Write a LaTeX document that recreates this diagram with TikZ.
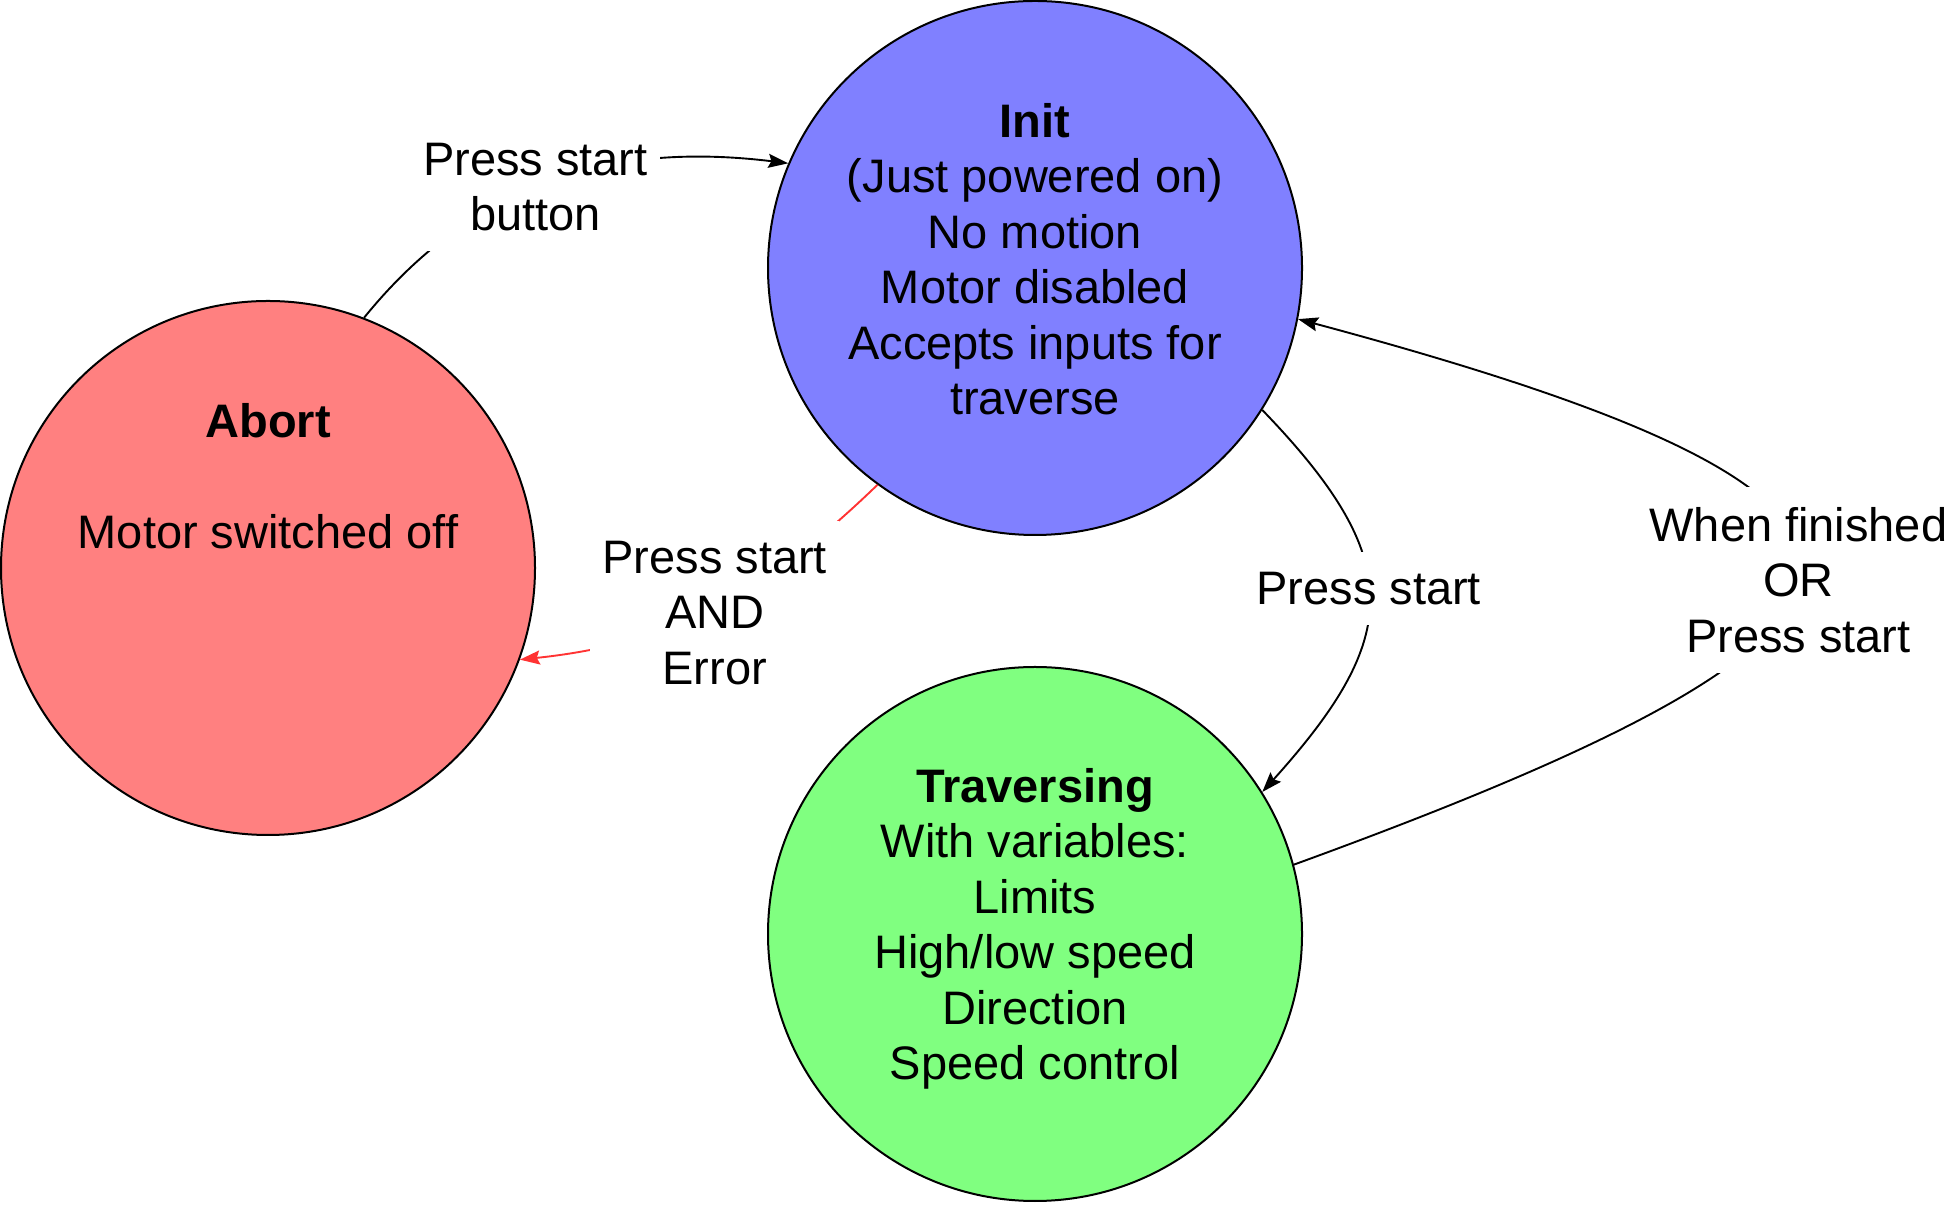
\documentclass[tikz,border=0pt]{standalone}
\usepackage{fontspec}
\setmainfont{Liberation Sans}
\usepackage{tikz}
\usetikzlibrary{arrows.meta}

\definecolor{initblue}{HTML}{8080FF}
\definecolor{abortred}{HTML}{FF8080}
\definecolor{travgreen}{HTML}{80FF80}
\definecolor{errorred}{HTML}{FF3333}

\begin{document}
\begin{tikzpicture}[x=1pt,y=1pt,
  state/.style={circle, draw, line width=2pt, minimum size=534pt, inner sep=0pt},
  statetext/.style={align=center, font=\fontsize{47}{55.5}\selectfont},
  edgelbl/.style={fill=white, align=center, inner xsep=12pt, inner ysep=20pt,
    font=\fontsize{47}{55.5}\selectfont},
  trans/.style={line width=1.9pt, -{Stealth[length=20pt,width=14pt,inset=3pt]}}]
\useasboundingbox (0,0) rectangle (1958,1204);

% states
\node[state, fill=initblue] (init) at (1035,936) {};
\node[state, fill=abortred] (abort) at (268,636) {};
\node[state, fill=travgreen] (trav) at (1035,270) {};

\node[statetext] (inittxt) at ([yshift=9pt]init.center)
  {\textbf{Init}\\(Just powered on)\\No motion\\Motor disabled\\Accepts inputs for\\traverse};
\node[statetext] (aborttxt) at ([yshift=92pt]abort.center)
  {\textbf{Abort}\\[55.5pt]Motor switched off};
\node[statetext] (travtxt) at ([yshift=5pt]trav.center)
  {\textbf{Traversing}\\With variables:\\Limits\\High/low speed\\Direction\\Speed control};

% transitions
\draw[trans] (abort.69) to[out=51, in=173]
  node[edgelbl, pos=0.46] (lblbutton) {Press start\\button} (init.157);
\draw[trans, errorred] (init.234) to[out=224, in=6]
  node[edgelbl, pos=0.5, yshift=-6pt, text=black] (lblerror) {Press start\\AND\\Error} (abort.-20);
\draw[trans] (init.-32) to[out=-46, in=48, looseness=1.4]
  node[edgelbl, pos=0.47] (lblstart) {Press start} (trav.32);
\draw[trans] (trav.15) to[out=20, in=-15, looseness=3.3]
  node[edgelbl, pos=0.48] (lblfinish) {When finished\\OR\\Press start} (init.-11);

\end{tikzpicture}
\end{document}
